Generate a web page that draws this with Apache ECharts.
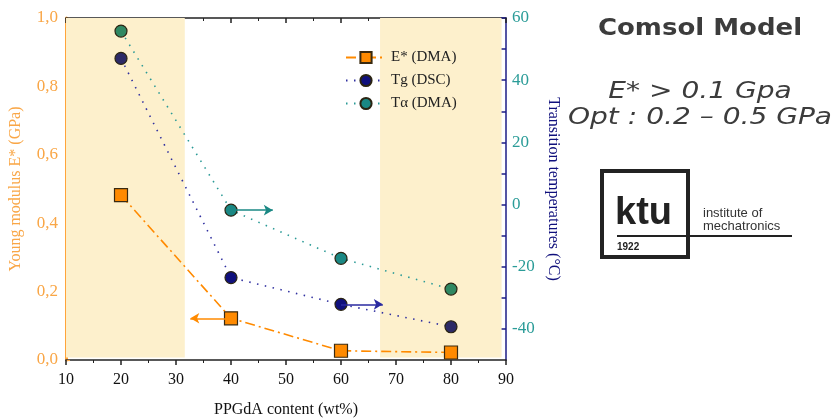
<!DOCTYPE html>
<html>
<head>
<meta charset="utf-8">
<script src="https://cdn.jsdelivr.net/npm/echarts@6/dist/echarts.min.js"></script>
<style>
  html, body { margin: 0; padding: 0; background: #fff; }
  #chart { width: 837px; height: 420px; }
</style>
</head>
<body>
<div id="chart"></div>
<script>
// PPGdA content (wt%)
const contents = [20, 40, 60, 80];
// E* (DMA), GPa - left axis
const modulusDMA = [0.482, 0.122, 0.027, 0.022];
// Tg (DSC), °C - right axis
const tgDSC = [47.0, -23.5, -32.1, -39.3];
// Tα (DMA), °C - right axis
const taDMA = [55.8, -1.8, -17.3, -27.2];
// shaded ranges on the x axis (wt%)
const bands = [[9.3, 31.6], [67.1, 89.2]];
// arrows: [from x, to x] pointing at the axis each series belongs to
const arrowModulus = [40, 32.6];
const arrowTg = [60, 67.6];
const arrowTa = [40, 47.6];
const rightTicks = [-40, -20, 0, 20, 40, 60];
const rightMinor = [-40, -30, -20, -10, 0, 10, 20, 30, 40, 50, 60];

const ORANGE = '#ff8a00';
const ORANGE_TXT = '#f9a646';
const NAVY = '#10107c';
const TEAL = '#1a8884';
const TEAL_TXT = '#2b9c98';
const SERIF = '"Liberation Serif", "DejaVu Serif", serif';

const inBand = x => bands.some(b => x >= b[0] && x <= b[1]);

function points(ys, color, bandColor) {
  return contents.map((x, i) => ({
    value: [x, ys[i]],
    itemStyle: { color: inBand(x) ? bandColor : color }
  }));
}

const chart = echarts.init(document.getElementById('chart'));

const xBase = {
  type: 'value', min: 10, max: 90, interval: 10,
  splitLine: { show: false },
  minorTick: { show: true, splitNumber: 2, length: 3, lineStyle: { color: '#222' } },
  minorSplitLine: { show: false }
};

chart.setOption({
  animation: false,
  backgroundColor: '#fff',
  grid: { left: 66, right: 331, top: 18, bottom: 60, outerBoundsMode: 'none', containLabel: false },
  legend: {
    top: 45, left: 340, orient: 'vertical', itemGap: 8,
    itemWidth: 40, itemHeight: 14,
    textStyle: { fontFamily: SERIF, fontSize: 15, color: '#222' },
    data: ['E* (DMA)', 'Tg (DSC)', 'Tα (DMA)']
  },
  xAxis: [
    Object.assign({}, xBase, {
      position: 'bottom',
      name: 'PPGdA content (wt%)', nameLocation: 'middle', nameGap: 42,
      nameTextStyle: { fontFamily: SERIF, fontSize: 16, color: '#111' },
      axisLine: { onZero: false, lineStyle: { color: '#222', width: 1.5 } },
      axisTick: { inside: false, length: 5, lineStyle: { color: '#222', width: 1.5 } },
      axisLabel: { fontFamily: SERIF, fontSize: 16, color: '#111', margin: 12 }
    }),
    Object.assign({}, xBase, {
      position: 'top',
      axisLine: { onZero: false, lineStyle: { color: '#222', width: 1.5 } },
      axisTick: { inside: true, length: 5, lineStyle: { color: '#222', width: 1.5 } },
      minorTick: { show: true, splitNumber: 2, length: 3, lineStyle: { color: '#222' } },
      axisLabel: { show: false }
    })
  ],
  yAxis: [
    {
      type: 'value', position: 'left', min: 0, max: 1, interval: 0.1,
      name: 'Young modulus E* (GPa)', nameLocation: 'middle', nameGap: 42,
      nameTextStyle: { fontFamily: SERIF, fontSize: 16, color: ORANGE_TXT },
      splitLine: { show: false },
      axisLine: { show: true, onZero: false, lineStyle: { color: '#ffa43a', width: 3 } },
      axisTick: { show: true, inside: true, length: 4, lineStyle: { color: ORANGE_TXT, width: 1.2 } },
      axisLabel: {
        fontFamily: SERIF, fontSize: 17, color: ORANGE_TXT, margin: 8,
        formatter: v => (Math.round(v * 10) % 2 === 0 ? v.toFixed(1).replace('.', ',') : '')
      }
    },
    {
      type: 'value', position: 'right', min: -50, max: 60,
      name: 'Transition temperatures (°C)', nameLocation: 'middle', nameGap: 38,
      nameRotate: -90,
      nameTextStyle: { fontFamily: SERIF, fontSize: 16, color: NAVY },
      splitLine: { show: false },
      axisLine: { show: true, onZero: false, lineStyle: { color: '#1c1c86', width: 1.5 } },
      axisTick: { show: true, inside: true, length: 5, customValues: rightMinor,
        lineStyle: { color: '#1c1c86', width: 1.5 } },
      axisLabel: { fontFamily: SERIF, fontSize: 17, color: TEAL_TXT, margin: 6,
        customValues: rightTicks }
    }
  ],
  series: [
    {
      name: 'bands', type: 'line', data: [], z: 0, silent: true, clip: false,
      markArea: {
        silent: true,
        itemStyle: { color: '#fdf0cc' },
        data: bands.map(b => [{ coord: [b[0], 0.007] }, { coord: [b[1], 1] }])
      }
    },
    {
      name: 'E* (DMA)', type: 'line', xAxisIndex: 0, yAxisIndex: 0,
      data: points(modulusDMA, ORANGE, ORANGE),
      symbol: 'rect', symbolSize: 13,
      lineStyle: { color: ORANGE, width: 1.6, type: [10, 4, 2, 4] },
      itemStyle: { color: ORANGE, borderColor: '#3a2a10', borderWidth: 1.2 },
      z: 3,
      markLine: {
        silent: true, symbol: ['none', 'arrow'], symbolSize: [8, 9],
        label: { show: false },
        lineStyle: { color: ORANGE, width: 1.5, type: 'solid' },
        data: [[{ coord: [arrowModulus[0], modulusDMA[1]] }, { coord: [arrowModulus[1], modulusDMA[1]] }]]
      }
    },
    {
      name: 'Tg (DSC)', type: 'line', xAxisIndex: 0, yAxisIndex: 1,
      data: points(tgDSC, NAVY, '#2c2a66'),
      symbol: 'circle', symbolSize: 12,
      lineStyle: { color: '#3030a0', width: 1.6, type: [1.5, 6.5] },
      itemStyle: { color: NAVY, borderColor: '#2a2412', borderWidth: 1.2 },
      z: 3,
      markLine: {
        silent: true, symbol: ['none', 'arrow'], symbolSize: [8, 9],
        label: { show: false },
        lineStyle: { color: '#2a2aa0', width: 1.5, type: 'solid' },
        data: [[{ coord: [arrowTg[0], tgDSC[2]] }, { coord: [arrowTg[1], tgDSC[2]] }]]
      }
    },
    {
      name: 'Tα (DMA)', type: 'line', xAxisIndex: 0, yAxisIndex: 1,
      data: points(taDMA, TEAL, '#2f8862'),
      symbol: 'circle', symbolSize: 12,
      lineStyle: { color: '#2a9a96', width: 1.6, type: [1.5, 6.5] },
      itemStyle: { color: TEAL, borderColor: '#2a2412', borderWidth: 1.2 },
      z: 3,
      markLine: {
        silent: true, symbol: ['none', 'arrow'], symbolSize: [8, 9],
        label: { show: false },
        lineStyle: { color: TEAL, width: 1.5, type: 'solid' },
        data: [[{ coord: [arrowTa[0], taDMA[1]] }, { coord: [arrowTa[1], taDMA[1]] }]]
      }
    }
  ],
  graphic: [
    { type: 'text', x: 700, y: 29, scaleX: 1.13,
      style: { text: 'Comsol Model', font: 'bold 23px "DejaVu Sans", sans-serif', fill: '#3c3c3c',
        textAlign: 'center', textVerticalAlign: 'middle' } },
    { type: 'text', x: 700, y: 92, scaleX: 1.22,
      style: { text: 'E* > 0.1 Gpa', font: 'italic 23px "DejaVu Sans", sans-serif', fill: '#3c3c3c',
        textAlign: 'center', textVerticalAlign: 'middle' } },
    { type: 'text', x: 700, y: 118, scaleX: 1.22,
      style: { text: 'Opt : 0.2 – 0.5 GPa', font: 'italic 23px "DejaVu Sans", sans-serif', fill: '#3c3c3c',
        textAlign: 'center', textVerticalAlign: 'middle' } },
    { type: 'rect', shape: { x: 602, y: 171, width: 86, height: 86 },
      style: { fill: 'none', stroke: '#222', lineWidth: 4 } },
    { type: 'line', shape: { x1: 617, y1: 236, x2: 792, y2: 236 },
      style: { stroke: '#222', lineWidth: 2 } },
    { type: 'text', x: 615, y: 233,
      style: { text: 'ktu', font: 'bold 38px "Liberation Sans", sans-serif', fill: '#222',
        textVerticalAlign: 'bottom' } },
    { type: 'text', x: 617, y: 247,
      style: { text: '1922', font: 'bold 10px "Liberation Sans", sans-serif', fill: '#222',
        textVerticalAlign: 'middle' } },
    { type: 'text', x: 703, y: 213,
      style: { text: 'institute of', font: '13px "Liberation Sans", sans-serif', fill: '#333',
        textVerticalAlign: 'middle' } },
    { type: 'text', x: 703, y: 226,
      style: { text: 'mechatronics', font: '13px "Liberation Sans", sans-serif', fill: '#333',
        textVerticalAlign: 'middle' } }
  ]
});
</script>
</body>
</html>
